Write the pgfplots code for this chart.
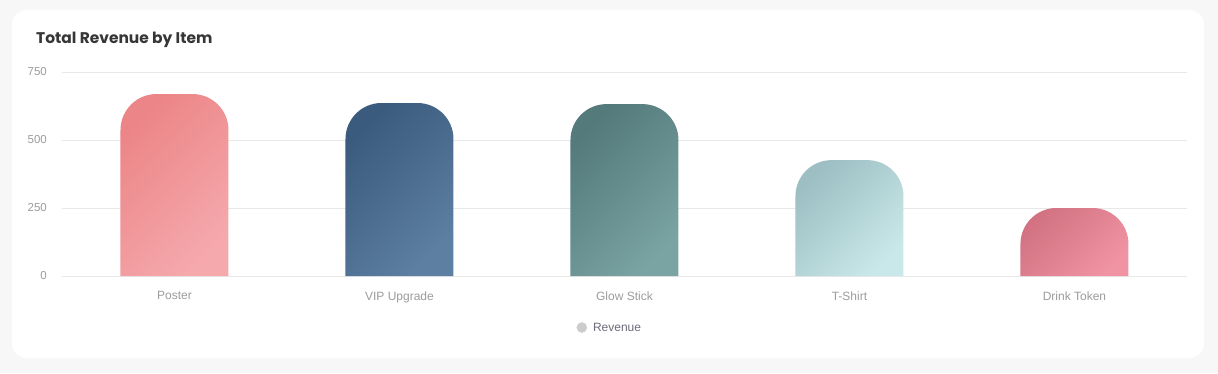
\documentclass[border=0pt]{standalone}
\usepackage{pgfplots}
\pgfplotsset{compat=1.18}
\usepackage{fontspec}
\setmainfont{Liberation Sans}
\newfontfamily\poppins{Poppins}
\definecolor{bgc}{HTML}{F7F7F7}
\definecolor{gridc}{HTML}{E8E8E8}
\definecolor{tickc}{HTML}{9C9C9C}
\definecolor{titlec}{HTML}{363636}
\definecolor{legc}{HTML}{6C6C7C}
\definecolor{pA}{HTML}{EC8587}\definecolor{pB}{HTML}{F5A9AD}
\definecolor{vA}{HTML}{3A5B7E}\definecolor{vB}{HTML}{5D7FA2}
\definecolor{gA}{HTML}{547A7B}\definecolor{gB}{HTML}{7AA3A3}
\definecolor{tA}{HTML}{9DBFC3}\definecolor{tB}{HTML}{C9E8E9}
\definecolor{dA}{HTML}{D27282}\definecolor{dB}{HTML}{F093A2}
\pgfplotsset{roundbar/.style n args={2}{draw=none, sharp plot, no markers, rounded corners=36bp, top color=#1, bottom color=#2, shading angle=45, forget plot}}
\begin{document}
\begin{tikzpicture}[x=1bp,y=1bp]
\useasboundingbox (0,0) rectangle (1218,373);
\fill[bgc] (0,0) rectangle (1218,373);
\fill[white, rounded corners=14bp] (12,15) rectangle (1204,363);
\node[anchor=base west, inner sep=0pt, text=titlec, font=\poppins\bfseries\fontsize{15.45bp}{18bp}\selectfont] at (36,330) {Total Revenue by Item};
\begin{axis}[
  at={(62bp,97bp)}, anchor=south west,
  scale only axis, width=1125bp, height=204bp,
  xmin=-0.5, xmax=4.5, ymin=0, ymax=750,
  xtick={0,1,2,3,4},
  xticklabels={Poster,VIP Upgrade,Glow Stick,T-Shirt,Drink Token},
  ytick={0,250,500,750},
  /pgf/number format/assume math mode=true,
  ymajorgrids, grid style={draw=gridc, line width=0.9bp},
  axis line style={draw=none},
  major tick length=0pt,
  tick style={draw=none},
  yticklabel style={anchor=east, inner sep=0pt, xshift=-15bp, text=tickc, font=\fontsize{11.5bp}{13bp}\selectfont},
  xticklabel style={anchor=north, inner sep=0pt, yshift=-15.5bp, text=tickc, font=\fontsize{12bp}{14bp}\selectfont},
  legend style={at={(0.487,-0.255)}, anchor=center, draw=none, fill=none, text=legc, font=\fontsize{12bp}{14bp}\selectfont, legend cell align=left},
  legend image code/.code={\fill[black!20] (0bp,0.5bp) circle (5bp); \path (9bp,0bp);},
]
% each bar outline: (left,0) (left,value) (right,value) (right,0); bar width 0.48
\addplot[roundbar={pA}{pB}] coordinates {(-0.24,0) (-0.24,669) (0.24,669) (0.24,0)};
\addplot[roundbar={vA}{vB}] coordinates {(0.76,0) (0.76,636) (1.24,636) (1.24,0)};
\addplot[roundbar={gA}{gB}] coordinates {(1.76,0) (1.76,632) (2.24,632) (2.24,0)};
\addplot[roundbar={tA}{tB}] coordinates {(2.76,0) (2.76,426) (3.24,426) (3.24,0)};
\addplot[roundbar={dA}{dB}] coordinates {(3.76,0) (3.76,250) (4.24,250) (4.24,0)};
\addlegendimage{black!20}
\addlegendentry{Revenue}
\end{axis}
\end{tikzpicture}
\end{document}
